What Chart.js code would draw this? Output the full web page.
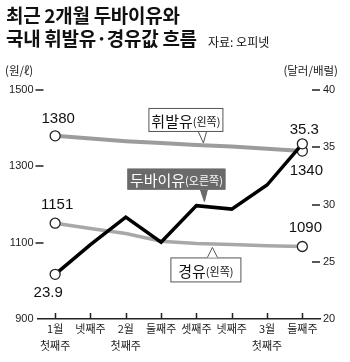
<!DOCTYPE html>
<html>
<head>
<meta charset="utf-8">
<script src="https://cdn.jsdelivr.net/npm/chart.js@4/dist/chart.umd.min.js"></script>
<style>
  body { margin: 0; background: #fff; }
  #wrap { position: relative; width: 350px; height: 362px; font-family: "Noto Sans CJK KR", sans-serif; color: #111; }
  #wrap canvas { position: absolute; left: 0; top: 0; }
  .t { position: absolute; white-space: nowrap; }
  .title { font-weight: bold; font-size: 19px; line-height: 22px; letter-spacing: -0.3px; }
  .src { font-size: 12px; line-height: 16px; }
  .unit { font-size: 11.5px; line-height: 16px; color: #222; }
</style>
</head>
<body>
<div id="wrap">
  <canvas id="myChart" width="350" height="362"></canvas>
  <div class="t title" style="left:6px; top:4px;">최근 2개월 두바이유와</div>
  <div class="t title" style="left:6px; top:27px;">국내 휘발유·경유값 흐름</div>
  <div class="t src" style="left:208px; top:34px;">자료: 오피넷</div>
  <div class="t unit" style="left:5px; top:62px;">(원/ℓ)</div>
  <div class="t unit" style="right:12px; top:62px;">(달러/배럴)</div>
</div>
<script>
const weeks = [["1월", "첫째주"], "넷째주", ["2월", "첫째주"], "둘째주", "셋째주", "넷째주", ["3월", "첫째주"], "둘째주"];
const dubai = [23.9, 26.5, 28.9, 26.7, 29.9, 29.6, 31.7, 35.3];
const gasoline = [1380, 1373, 1366, 1361, 1356, 1352, 1346, 1340];
const diesel = [1151, 1137, 1124, 1104, 1098, 1095, 1092, 1090];
const leftTicks = [900, 1100, 1300, 1500];
const rightTicks = [20, 25, 30, 35, 40];

const numFont = '"Liberation Sans", Arial, sans-serif';
const krFont = '"Noto Sans CJK KR", sans-serif';
const ends = [5, 0, 0, 0, 0, 0, 0, 5];

// value labels next to the end points
const valueLabels = [
  { ds: 1, i: 0, text: "1380", dx: 3, dy: -17 },
  { ds: 2, i: 0, text: "1151", dx: 2, dy: -18 },
  { ds: 0, i: 0, text: "23.9", dx: -7, dy: 19 },
  { ds: 0, i: 7, text: "35.3", dx: 2, dy: -14 },
  { ds: 1, i: 7, text: "1340", dx: 4, dy: 20 },
  { ds: 2, i: 7, text: "1090", dx: 3, dy: -19 }
];

// callout boxes pointing at a line
const callouts = [
  { ds: 1, i: 4, dx: 7, dy: -2, main: "휘발유", sub: "(왼쪽)", bx: -55, bw: 75, bh: 24, gap: 11, up: true, dark: false, b0: -5, b1: 3 },
  { ds: 0, i: 4, dx: 8, dy: -4, main: "두바이유", sub: "(오른쪽)", bx: -77, bw: 98, bh: 21, gap: 12, up: true, dark: true, b0: -4, b1: 3 },
  { ds: 2, i: 4, dx: 16, dy: 4, main: "경유", sub: "(왼쪽)", bx: -42, bw: 71, bh: 25, gap: 10, up: false, dark: false, b0: -5, b1: 5 }
];

const decor = {
  id: "decor",
  afterDatasetsDraw(chart) {
    const ctx = chart.ctx;
    const a = chart.chartArea;
    const x = chart.scales.x;
    const yl = chart.scales.yL;
    const yr = chart.scales.yR;
    ctx.save();
    ctx.strokeStyle = "#222";
    ctx.lineWidth = 1.5;
    ctx.beginPath();
    leftTicks.slice(1).forEach(v => {
      const y = Math.round(yl.getPixelForValue(v));
      ctx.moveTo(a.left - 2, y); ctx.lineTo(a.left + 6, y);
    });
    rightTicks.slice(1).forEach(v => {
      const y = Math.round(yr.getPixelForValue(v));
      ctx.moveTo(a.right - 8, y); ctx.lineTo(a.right, y);
    });
    weeks.forEach((w, i) => {
      const px = Math.round(x.getPixelForValue(i)) + 0.5;
      ctx.moveTo(px, a.bottom); ctx.lineTo(px, a.bottom - 6);
    });
    ctx.stroke();

    // callouts
    callouts.forEach(c => {
      const pt = chart.getDatasetMeta(c.ds).data[c.i];
      const tx = pt.x + c.dx, ty = pt.y + c.dy;
      const bx = tx + c.bx;
      const by = c.up ? ty - c.gap - c.bh : ty + c.gap;
      const edge = c.up ? by + c.bh : by;
      const fill = c.dark ? "#6a6a6a" : "#fff";
      ctx.fillStyle = fill;
      ctx.strokeStyle = c.dark ? "#6a6a6a" : "#555";
      ctx.lineWidth = 1;
      ctx.fillRect(bx, by, c.bw, c.bh);
      ctx.strokeRect(bx + 0.5, by + 0.5, c.bw - 1, c.bh - 1);
      ctx.beginPath();
      ctx.moveTo(tx + c.b0, edge);
      ctx.lineTo(tx, ty);
      ctx.lineTo(tx + c.b1, edge);
      ctx.closePath();
      ctx.fill();
      ctx.beginPath();
      ctx.moveTo(tx + c.b0, edge);
      ctx.lineTo(tx, ty);
      ctx.lineTo(tx + c.b1, edge);
      ctx.stroke();
      ctx.fillStyle = c.dark ? "#fff" : "#111";
      ctx.textBaseline = "middle";
      ctx.textAlign = "left";
      ctx.font = "15px " + krFont;
      const w1 = ctx.measureText(c.main).width;
      ctx.font = "11px " + krFont;
      const w2 = ctx.measureText(c.sub).width;
      const sx = bx + (c.bw - w1 - w2) / 2;
      const cy = by + c.bh / 2 + 1;
      ctx.font = "15px " + krFont;
      ctx.fillText(c.main, sx, cy);
      ctx.font = "11px " + krFont;
      ctx.fillText(c.sub, sx + w1, cy + 1);
    });

    // numbers at the ends
    ctx.fillStyle = "#111";
    ctx.font = "15px " + numFont;
    ctx.textAlign = "center";
    ctx.textBaseline = "middle";
    valueLabels.forEach(l => {
      const pt = chart.getDatasetMeta(l.ds).data[l.i];
      ctx.fillText(l.text, pt.x + l.dx, pt.y + l.dy);
    });
    ctx.restore();
  }
};

const lineOpts = (data, color, width, axis) => ({
  data: data,
  yAxisID: axis,
  borderColor: color,
  borderWidth: width,
  tension: 0,
  pointRadius: ends,
  pointHoverRadius: ends,
  pointBackgroundColor: "#fff",
  pointBorderColor: "#222",
  pointBorderWidth: 1.3,
  clip: false
});

const config = {
  type: "line",
  data: {
    labels: weeks,
    datasets: [
      lineOpts(dubai, "#000", 3.5, "yR"),
      lineOpts(gasoline, "#9c9c9c", 4, "yL"),
      lineOpts(diesel, "#a8a8a8", 3.5, "yL")
    ]
  },
  options: {
    responsive: false,
    animation: false,
    events: [],
    layout: { padding: { top: 90, left: 0, right: 0, bottom: 0 } },
    plugins: { legend: { display: false }, tooltip: { enabled: false } },
    scales: {
      x: {
        offset: true,
        grid: { display: false, drawTicks: false },
        border: { display: true, color: "#222", width: 1.5 },
        ticks: { color: "#222", font: { family: krFont, size: 11, lineHeight: 1.5 }, padding: 2, maxRotation: 0, autoSkip: false },
        afterFit: s => { s.height = 43; }
      },
      yL: {
        position: "left",
        min: 900,
        max: 1500,
        afterBuildTicks: s => { s.ticks = leftTicks.map(v => ({ value: v })); },
        grid: { display: false, drawTicks: false },
        border: { display: false },
        ticks: { color: "#222", font: { family: numFont, size: 11 }, padding: 4, callback: v => String(v) },
        afterFit: s => { s.width = 37.5; }
      },
      yR: {
        position: "right",
        min: 20,
        max: 40,
        afterBuildTicks: s => { s.ticks = rightTicks.map(v => ({ value: v })); },
        grid: { display: false, drawTicks: false },
        border: { display: false },
        ticks: { color: "#222", font: { family: numFont, size: 11 }, padding: 3, callback: v => String(v) },
        afterFit: s => { s.width = 30; }
      }
    }
  },
  plugins: [decor]
};

const chart = new Chart(document.getElementById("myChart"), config);
</script>
</body>
</html>
